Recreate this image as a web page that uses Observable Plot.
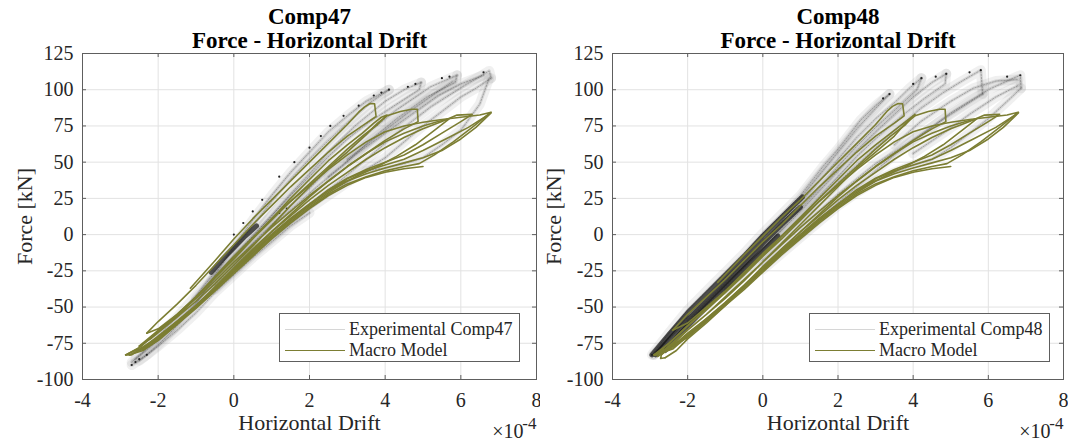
<!DOCTYPE html>
<html>
<head>
<meta charset="utf-8">
<script src="https://cdn.jsdelivr.net/npm/d3@7"></script>
<script src="https://cdn.jsdelivr.net/npm/@observablehq/plot@0.6"></script>
<style>
  html, body { margin: 0; padding: 0; background: #fff; }
  #wrap { position: relative; width: 1068px; height: 440px; display: flex; }
  .panel { position: relative; height: 440px; }
  .legend { position: absolute; box-sizing: border-box; border: 1px solid #5e5e5e; background: #fff;
            font-family: "Liberation Serif", serif; font-size: 18px; color: #262626; }
  .legend .row { position: absolute; left: 0; height: 20px; }
  .legend .sw { position: absolute; left: 5px; width: 60px; height: 0; }
  .legend .tx { position: absolute; left: 69px; white-space: nowrap; line-height: 20px; }
</style>
</head>
<body>
<div id="wrap">
  <div class="panel" id="p1" style="width:540px"></div>
  <div class="panel" id="p2" style="width:528px"></div>
</div>
<script>
// ---------- axes ----------
const xTicks = [-4, -2, 0, 2, 4, 6, 8];      // ×10^-4
const yTicks = [-100, -75, -50, -25, 0, 25, 50, 75, 100, 125];
const titles = ["Comp47", "Comp48"];
const subtitle = "Force - Horizontal Drift";
const xLabel = "Horizontal Drift";
const yLabel = "Force [kN]";
const legendLabels47 = ["Experimental Comp47", "Macro Model"];
const legendLabels48 = ["Experimental Comp48", "Macro Model"];

// ---------- Comp47 macro model (x in 1e-4, force kN) ----------
const m47a = [[-1.15,-37],[-0.5,-18],[0,-3],[0.5,11],[1,24],[1.5,37],[2,50],[2.5,63],[3,76],[3.3,84.5],[3.45,88],[3.6,90.5],[3.72,90.3],[3.76,81.5],[3.5,77],[3,68],[2.5,57],[2,45],[1.5,33],[1,20],[0.5,7],[0,-7],[-0.5,-21],[-1,-35],[-1.5,-48],[-2,-60],[-2.3,-68]];
const m47b = [[-2.3,-68],[-2,-65],[-1.5,-55],[-1,-43],[-0.5,-30],[0,-17],[0.5,-3],[1,11],[1.5,25],[2,38],[2.5,51],[3,62],[3.4,70],[3.7,77],[3.9,81],[4.05,82.5],[3.8,76],[3.4,68],[3,59],[2.5,47],[2,35],[1.5,23],[1,10],[0.5,-3],[0,-16],[-0.5,-30],[-1,-43],[-1.5,-55],[-2,-66],[-2.5,-77]];
const m47c = [[-2.5,-77],[-2.2,-72],[-1.5,-57],[-1,-46],[-0.5,-34],[0,-21],[0.5,-8],[1,6],[1.5,20],[2,33],[2.5,46],[3,57],[3.5,69],[3.8,77],[4.05,82],[4.4,85],[4.7,86.5],[4.85,86.5],[4.87,78],[4.5,73],[4,65],[3.5,56],[3,47],[2.5,37],[2,27],[1.5,16],[1,5],[0.5,-7],[0,-19],[-0.5,-32],[-1,-44],[-1.5,-56],[-2,-67],[-2.5,-78],[-2.86,-83]];
const m47d = [[-2.86,-83],[-2.7,-83],[-2.4,-78],[-2,-70],[-1.5,-60],[-1,-49],[-0.5,-37],[0,-24],[0.5,-11],[1,2],[1.5,14],[2,26],[2.5,37],[3,47],[3.5,56],[4,64],[4.5,70],[5,75],[5.4,78],[5.7,80],[5.3,72],[4.8,62],[4.3,54],[3.8,47],[3.3,41],[3,37],[2.5,29],[2,20],[1.5,10],[1,-1],[0.5,-13],[0,-25],[-0.5,-38],[-1,-50],[-1.5,-62],[-2,-73],[-2.4,-80],[-2.65,-82]];
const m47e = [[-2.65,-82],[-2.2,-75],[-1.7,-64],[-1,-49],[-0.5,-36],[0,-23],[0.5,-10],[1,2],[1.5,13],[2,24],[2.5,34],[3,43],[3.5,52],[4,60],[4.5,67],[5,73],[5.5,78],[5.9,82.5],[6.3,83],[6,78],[5.5,70],[5,62],[4.5,55],[4,50],[3.5,45],[3,39],[2.5,31],[2,21],[1.5,11],[1,0],[0.5,-12],[0,-24],[-0.5,-37],[-1,-49],[-1.5,-60],[-2,-71],[-2.5,-80],[-2.75,-83]];
const m47f = [[-2.75,-83],[-2.4,-79],[-2,-72],[-1.5,-61],[-1,-50],[-0.5,-38],[0,-26],[0.5,-14],[1,-2],[1.5,9],[2,19],[2.5,28],[3,35],[3.5,40],[4,44],[4.5,47],[4.9,49],[5.3,55],[5.8,64],[6.3,74],[6.8,84.5],[6.5,82.5],[6,81],[5.5,79.5],[5,77.5],[4.5,75],[4,71],[3.5,64],[3,55],[2.5,45],[2,34],[1.5,23],[1,11],[0.5,-2],[0,-15],[-0.5,-29],[-1,-43],[-1.5,-55],[-2,-67],[-2.5,-78],[-2.85,-83]];
const m47g = [[-2.85,-83],[-2.5,-79],[-2,-71],[-1.5,-60],[-1,-49],[-0.5,-37],[0,-25],[0.5,-12],[1,0],[1.5,11],[2,21],[2.5,30],[3,37],[3.5,42],[4,46],[4.5,49.5],[5,53],[5.5,58],[6,66],[6.4,74],[6.8,84],[6.2,74],[5.6,66],[5,58],[4.5,52],[4,48],[3.5,44],[3,38.5],[2.5,30],[2,21],[1.5,11],[1,0],[0.5,-12],[0,-24],[-0.5,-37],[-1,-49],[-1.5,-61],[-2,-72],[-2.4,-79]];
const m47h = [[-2.4,-79],[-2,-73],[-1.5,-62],[-1,-51],[-0.5,-39],[0,-27],[0.5,-15],[1,-3],[1.5,8],[2,18],[2.5,27],[3,34],[3.5,39.5],[4,43],[4.5,45.5],[5,47]];

// ---------- Comp48 macro model ----------
const m48a = [[-1.2,-33],[-0.5,-14],[0,-1],[0.5,12],[1,24],[1.5,37],[2,50],[2.5,63],[3,76],[3.3,85],[3.45,88.5],[3.6,90.5],[3.72,90.3],[3.76,82],[3.5,77],[3,68],[2.5,57],[2,45],[1.5,33],[1,20],[0.5,7],[0,-5],[-0.5,-18],[-1,-31],[-1.5,-43],[-2,-55],[-2.4,-66]];
const m48b = [[-2.4,-66],[-2,-61],[-1.5,-50],[-1,-39],[-0.5,-27],[0,-14],[0.5,-1],[1,12],[1.5,25],[2,38],[2.5,51],[3,62],[3.5,72],[3.8,78],[4.05,83],[3.8,76],[3.4,68],[3,59],[2.5,47],[2,35],[1.5,23],[1,10],[0.5,-3],[0,-15],[-0.5,-28],[-1,-40],[-1.5,-52],[-2,-63],[-2.5,-75],[-2.9,-83]];
const m48c = [[-2.9,-83],[-2.6,-79],[-2.2,-70],[-1.5,-55],[-1,-44],[-0.5,-32],[0,-19],[0.5,-6],[1,7],[1.5,20],[2,33],[2.5,46],[3,57],[3.5,68],[3.8,77],[4.05,82],[4.4,85],[4.7,86.5],[4.85,86.5],[4.87,78],[4.5,73],[4,65],[3.5,56],[3,47],[2.5,37],[2,27],[1.5,16],[1,5],[0.5,-7],[0,-19],[-0.5,-31],[-1,-43],[-1.5,-55],[-2,-66],[-2.5,-78],[-2.7,-83],[-2.72,-85.5],[-2.6,-85]];
const m48d = [[-2.6,-85],[-2.3,-80],[-2,-72],[-1.5,-61],[-1,-49],[-0.5,-36],[0,-23],[0.5,-10],[1,2],[1.5,14],[2,26],[2.5,37],[3,47],[3.5,56],[4,64],[4.5,70],[5,75],[5.4,78],[5.7,80],[5.3,72],[4.8,62],[4.3,54],[3.8,47],[3.3,41],[3,37],[2.5,29],[2,20],[1.5,10],[1,-1],[0.5,-12],[0,-24],[-0.5,-36],[-1,-48],[-1.5,-59],[-2,-70],[-2.4,-79],[-2.88,-83.3]];
const m48e = [[-2.88,-83.3],[-2.5,-79],[-2,-69],[-1.5,-58],[-1,-47],[-0.5,-35],[0,-22],[0.5,-10],[1,2],[1.5,13],[2,24],[2.5,34],[3,43],[3.5,52],[4,60],[4.5,67],[5,73],[5.5,78],[5.9,82.5],[6.3,83],[6,78],[5.5,70],[5,62],[4.5,55],[4,50],[3.5,45],[3,39],[2.5,31],[2,21],[1.5,11],[1,0],[0.5,-11],[0,-23],[-0.5,-35],[-1,-47],[-1.5,-58],[-2,-69],[-2.5,-79],[-2.8,-84]];
const m48f = [[-2.8,-84],[-2.4,-78],[-2,-70],[-1.5,-59],[-1,-48],[-0.5,-37],[0,-25],[0.5,-13],[1,-2],[1.5,9],[2,19],[2.5,28],[3,35],[3.5,40],[4,44],[4.5,47],[4.9,49],[5.3,55],[5.8,64],[6.3,74],[6.8,84.5],[6.5,82.5],[6,81],[5.5,79.5],[5,77.5],[4.5,75],[4,71],[3.5,64],[3,55],[2.5,45],[2,34],[1.5,23],[1,11],[0.5,-1],[0,-13],[-0.5,-26],[-1,-39],[-1.5,-51],[-2,-63],[-2.5,-75],[-2.85,-83]];
const m48g = [[-2.85,-83],[-2.5,-78],[-2,-69],[-1.5,-58],[-1,-47],[-0.5,-36],[0,-24],[0.5,-12],[1,0],[1.5,11],[2,21],[2.5,30],[3,37],[3.5,42],[4,46],[4.5,49.5],[5,53],[5.5,58],[6,66],[6.4,74],[6.8,84],[6.2,74],[5.6,66],[5,58],[4.5,52],[4,48],[3.5,44],[3,38.5],[2.5,30],[2,21],[1.5,11],[1,0],[0.5,-11],[0,-23],[-0.5,-35],[-1,-47],[-1.5,-58],[-2,-68],[-2.4,-77]];
const m48h = [[-2.4,-77],[-2,-71],[-1.5,-60],[-1,-49],[-0.5,-38],[0,-26],[0.5,-14],[1,-3],[1.5,8],[2,18],[2.5,27],[3,34],[3.5,39.5],[4,43],[4.5,45.5],[5,47]];

// ---------- Comp47 experimental (grey cloud) ----------
const e47a = [[-2.7,-90],[-2.3,-83],[-2,-76],[-1.5,-63],[-1,-48],[-0.5,-28],[0,-8],[0.5,10],[1,27],[1.5,43],[2,57],[2.5,71],[3,82],[3.5,92],[4.1,100]];
const e47b = [[4.1,100],[3.6,91],[3,77],[2.5,65],[2,52],[1.5,38],[1,23],[0.5,6],[0,-10],[-0.5,-26],[-1,-42],[-1.5,-57],[-2,-70],[-2.4,-81],[-2.7,-88]];
const e47c = [[-2.6,-86],[-2,-73],[-1,-47],[-0.5,-30],[0,-15],[0.5,-1],[1,13],[1.5,28],[2,42],[2.5,57],[3.2,75],[4,92],[4.5,100],[4.95,105]];
const e47d = [[4.95,105],[4.9,100],[4.3,90],[3.6,78],[3,66],[2.5,54],[2,40],[1.5,27],[1,13],[0.5,-1],[0,-15],[-0.5,-29],[-1,-44]];
const e47e = [[-1,-46],[-0.5,-32],[0,-19],[0.5,-6],[1,7],[1.5,20],[2,32],[2.7,50],[3.4,67],[4.3,86],[5.2,102],[5.9,110]];
const e47f = [[5.9,110],[5.85,105],[5.1,95],[4.3,80],[3.6,65],[2.9,48],[2.2,33],[1.5,17],[1,6],[0.5,-7],[0,-21]];
const e47g = [[-0.5,-35],[0,-22],[0.5,-10],[1,1],[1.5,11],[2,21],[2.8,37],[3.6,54],[4.3,70],[5.2,88],[6.1,103],[6.5,109],[6.75,113],[6.8,108]];
const e47h = [[6.8,108],[6.4,101],[6,95],[5.5,85],[5,75],[4.5,64],[4,53],[3.5,45],[3,36],[2.5,27],[2,18],[1.5,8],[1,-3],[0.5,-14],[0,-26],[-0.5,-38]];
const e47i = [[3.5,44],[4,46],[4.5,49],[5,53],[5.5,62],[6,72],[6.5,90],[6.75,108]];
const e47j = [[2.5,40],[3.2,55],[4,70],[4.7,83],[5.4,96],[6,104],[6.6,110]];
const e47k = [[3,52],[3.8,68],[4.6,84],[5.3,97],[5.8,106]];
const e47l = [[-2.5,-87],[-2,-77],[-1.5,-66],[-1,-54],[-0.5,-40],[0,-28],[0.5,-16],[1,-5],[1.5,6],[2,15]];
const core47 = [[-0.6,-26],[-0.3,-17],[0,-9],[0.3,-1],[0.6,6]];
const dots47 = [[0,0],[0.25,8],[0.5,16],[0.75,24],[1.2,40],[1.6,50],[2,60],[2.3,68],[2.55,75],[2.9,82],[3.3,89],[3.7,96],[3.9,98],[4.1,100],[-2.7,-90],[-2.6,-88],[-2.5,-86],[-2.3,-83],[4.6,102],[4.8,104],[5.5,108],[5.7,109],[6.6,112],[1.2,15],[1.4,18]];

// ---------- Comp48 experimental ----------
const e48a = [[-2.95,-83],[-2.5,-68],[-2,-52],[-1.5,-39],[-1,-26],[-0.5,-13],[0,1],[0.5,14],[1,27],[1.6,47],[2,59],[2.6,79],[3,89],[3.37,97]];
const e48b = [[3.37,97],[3,87],[2.5,73],[2,57],[1.5,41],[1,25],[0.5,9],[0,-5],[-0.5,-19],[-1,-33],[-1.5,-46],[-2,-59],[-2.5,-72],[-2.9,-83]];
const e48c = [[-2.9,-83],[-2,-57],[-1,-30],[0,-6],[0.5,8],[1,22],[1.5,37],[2,52],[2.5,67],[3,80],[3.5,91],[3.9,101],[4.22,108]];
const e48d = [[4.22,108],[4.1,100],[3.6,88],[3,74],[2.5,61],[2,47],[1.5,32],[1,18],[0.5,4],[0,-10],[-1,-36],[-2,-62]];
const e48e = [[-2,-60],[-1,-34],[0,-10],[0.5,3],[1,16],[1.5,30],[2,44],[2.5,58],[3,71],[3.5,83],[4,95],[4.5,105],[4.88,111]];
const e48f = [[4.88,111],[4.85,104],[4.3,94],[3.7,82],[3,66],[2.5,54],[2,40],[1.5,26],[1,12],[0.5,-1],[0,-14],[-1,-38]];
const e48g = [[-1,-38],[0,-14],[1,10],[2,36],[3,60],[3.6,74],[4.2,87],[4.8,98],[5.3,106],[5.8,113.5],[5.85,97]];
const e48h = [[5.85,97],[5.3,88],[4.7,78],[4,65],[3.5,55],[3,44],[2.5,33],[2,22],[1,0],[0,-22]];
const e48i = [[0,-18],[1,5],[2,28],[3,49],[3.8,62],[4.5,74],[5,84],[5.5,92],[6,100],[6.5,106],[6.85,110],[6.87,101]];
const e48j = [[6.87,101],[6.5,92],[6,80],[5.5,70],[5,60],[4.5,52],[4,48],[3.5,43],[3,37],[2.5,29],[2,20],[1,-2],[0,-24]];
const e48k = [[3.5,62],[4.2,78],[5,92],[5.6,101],[6.2,106],[6.8,107]];
const e48l = [[4,56],[4.8,70],[5.5,83],[6.2,95],[6.8,103]];
const core48a = [[-2.95,-83],[-2.5,-69],[-2,-54],[-1.5,-41],[-1,-28],[-0.5,-15],[0,-1],[0.5,12],[1.05,26]];
const core48b = [[-2.85,-83],[-2.4,-70],[-2,-59],[-1.5,-46],[-1,-33],[-0.5,-20],[0,-6],[0.5,7],[1,19]];
const core48c = [[-2.6,-80],[-2,-63],[-1.5,-50],[-1,-37],[-0.5,-24],[0,-11],[0.4,-1]];
const dots48 = [[-2.95,-83],[-2.8,-82],[3.2,94],[3.37,97],[4.0,104],[4.22,108],[4.6,109],[4.88,111],[5.5,112],[5.8,113.5],[6.5,109],[6.85,110]];

// ---------- helpers ----------
function rows(list) {
  const out = [];
  list.forEach((arr, s) => arr.forEach(([x, y]) => out.push({s, x, y})));
  return out;
}
const pts = arr => arr.map(([x, y]) => ({x, y}));

const OLIVE = "#7c7e33";
const FONT = "Liberation Serif, Times New Roman, serif";
const TXT = "#262626";
const AX = "#5e5e5e";

function panel(el, cfg) {
  const W = cfg.width, H = 440, mt = 53, mb = 61;
  const fw = W - cfg.ml - cfg.mr, fh = H - mt - mb;
  const marks = [
    Plot.gridX(xTicks, {stroke: "#e2e2e2", strokeOpacity: 1}),
    Plot.gridY(yTicks, {stroke: "#e2e2e2", strokeOpacity: 1}),
    // experimental cloud
    Plot.line(rows(cfg.exp), {x: "x", y: "y", z: "s", stroke: "#8e8e8e", strokeWidth: 10, strokeOpacity: 0.13}),
    Plot.line(rows(cfg.exp), {x: "x", y: "y", z: "s", stroke: "#777", strokeWidth: 3, strokeOpacity: 0.22}),
    Plot.line(rows(cfg.exp), {x: "x", y: "y", z: "s", stroke: "#444", strokeWidth: 0.8, strokeOpacity: 0.45, strokeDasharray: "1.5,1.5"}),
    Plot.line(rows(cfg.core), {x: "x", y: "y", z: "s", stroke: "#111", strokeWidth: cfg.coreWidth, strokeOpacity: 0.7}),
    Plot.dot(pts(cfg.dots), {x: "x", y: "y", r: 1.1, fill: "#222", stroke: null}),
    // macro model
    Plot.line(rows(cfg.model), {x: "x", y: "y", z: "s", stroke: OLIVE, strokeWidth: 1.6}),
    Plot.frame({stroke: AX}),
    // inward ticks on all four sides
    Plot.tickX(xTicks, {x: d => d, insetTop: fh - 4, stroke: AX}),
    Plot.tickX(xTicks, {x: d => d, insetBottom: fh - 4, stroke: AX}),
    Plot.tickY(yTicks, {y: d => d, insetRight: fw - 4, stroke: AX}),
    Plot.tickY(yTicks, {y: d => d, insetLeft: fw - 4, stroke: AX}),
    Plot.axisX({ticks: xTicks, tickSize: 0, tickPadding: 13, fontSize: 20, fill: TXT, tickFormat: d => String(d), label: null}),
    Plot.axisY({ticks: yTicks, tickSize: 0, tickPadding: 9, fontSize: 20, fill: TXT, tickFormat: d => String(d), label: null}),
    Plot.text([cfg.title], {text: d => d, frameAnchor: "top", dy: -30, lineAnchor: "bottom", fontSize: 23, fontWeight: "bold", fill: "#000"}),
    Plot.text([subtitle], {text: d => d, frameAnchor: "top", dy: -6, lineAnchor: "bottom", fontSize: 23, fontWeight: "bold", fill: "#000"}),
    Plot.text([xLabel], {text: d => d, frameAnchor: "bottom", dy: 50, lineAnchor: "bottom", fontSize: 22, fill: TXT}),
    Plot.text([yLabel], {text: d => d, frameAnchor: "left", textAnchor: "middle", dx: cfg.ylabX - cfg.ml, rotate: -90, lineAnchor: "bottom", fontSize: 22, fill: TXT}),
    Plot.text(["×10"], {text: d => d, frameAnchor: "bottom-right", textAnchor: "end", dx: -13, dy: 58, lineAnchor: "bottom", fontSize: 20, fill: TXT}),
    Plot.text(["-4"], {text: d => d, frameAnchor: "bottom-right", textAnchor: "end", dx: 0, dy: 49, lineAnchor: "bottom", fontSize: 17, fill: TXT})
  ];
  const chart = Plot.plot({
    width: W, height: H,
    marginLeft: cfg.ml, marginRight: cfg.mr, marginTop: mt, marginBottom: mb,
    x: {domain: [-4, 8]},
    y: {domain: [-100, 125]},
    style: {fontFamily: FONT, background: "#fff", overflow: "visible"},
    marks
  });
  el.appendChild(chart);

  // legend (inside the axes, bottom-right)
  const lg = document.createElement("div");
  lg.className = "legend";
  lg.style.left = (cfg.ml + 197) + "px";
  lg.style.top = "313px";
  lg.style.width = "241px";
  lg.style.height = "49px";
  const swatches = ["#d6d6d6", OLIVE];
  cfg.legend.forEach((label, i) => {
    const row = document.createElement("div");
    row.className = "row";
    row.style.top = (5 + i * 21) + "px";
    const sw = document.createElement("div");
    sw.className = "sw";
    sw.style.top = "10px";
    sw.style.borderTop = (i === 0 ? "1.2px" : "1.5px") + " solid " + swatches[i];
    const tx = document.createElement("div");
    tx.className = "tx";
    tx.textContent = label;
    row.appendChild(sw); row.appendChild(tx);
    lg.appendChild(row);
  });
  el.appendChild(lg);
}

panel(document.getElementById("p1"), {
  width: 540, ml: 82, mr: 4, ylabX: 31, title: titles[0],
  model: [m47a, m47b, m47c, m47d, m47e, m47f, m47g, m47h],
  exp: [e47a, e47b, e47c, e47d, e47e, e47f, e47g, e47h, e47i, e47j, e47k, e47l],
  core: [core47], coreWidth: 5, dots: dots47, legend: legendLabels47
});
panel(document.getElementById("p2"), {
  width: 528, ml: 72, mr: 5, ylabX: 20, title: titles[1],
  model: [m48a, m48b, m48c, m48d, m48e, m48f, m48g, m48h],
  exp: [e48a, e48b, e48c, e48d, e48e, e48f, e48g, e48h, e48i, e48j, e48k, e48l],
  core: [core48a, core48b, core48c], coreWidth: 5, dots: dots48, legend: legendLabels48
});
</script>
</body>
</html>
